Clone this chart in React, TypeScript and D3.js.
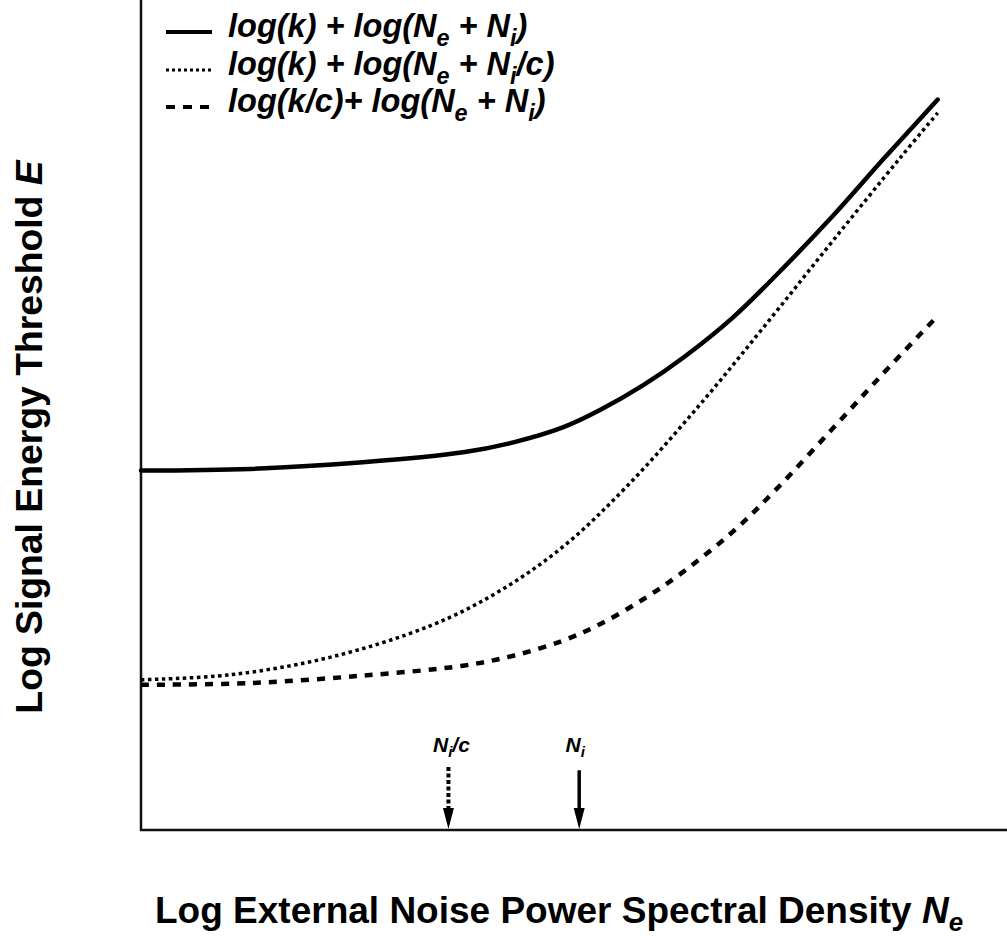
import React from "react";
import * as d3 from "d3";

// Log external noise (x, arbitrary log units) and log threshold (y, arbitrary log units)
const solidX = [0, 1.26, 2.56, 3.72, 4.3, 4.87, 5.3, 5.8, 6.26, 6.84, 7.34, 7.99, 8.57, 9.2];
const solidY = [4.33, 4.35, 4.43, 4.55, 4.67, 4.85, 5.06, 5.36, 5.69, 6.18, 6.69, 7.4, 8.08, 8.8];

const dottedX = [0, 1.03, 2.18, 3.34, 4.11, 4.87, 5.61, 6.45, 7.23, 7.99, 8.76, 9.2];
const dottedY = [1.81, 1.87, 2.08, 2.46, 2.86, 3.41, 4.14, 5.12, 6.11, 7.1, 8.09, 8.64];

const dashedX = [0, 1.26, 2.56, 3.72, 4.3, 4.87, 5.3, 5.8, 6.26, 6.84, 7.34, 7.99, 8.57, 9.15];
const dashedY = [1.75, 1.77, 1.86, 1.98, 2.1, 2.28, 2.48, 2.78, 3.11, 3.6, 4.11, 4.84, 5.5, 6.14];

const markerNames = ["Ni/c", "Ni"];
const markerX = [3.55, 5.06];
const markerTop = [0.76, 0.72];

const W = 1007;
const H = 936;
const FONT = "'Liberation Sans', Arial, Helvetica, sans-serif";

export default function App() {
  const x = d3.scaleLinear().domain([0, 10]).range([141, 1007]);
  const y = d3.scaleLinear().domain([0, 10]).range([830, 0]);
  const line = d3
    .line<[number, number]>()
    .x((d) => x(d[0]))
    .y((d) => y(d[1]))
    .curve(d3.curveCatmullRom.alpha(0.5));

  const series = [
    { xs: solidX, ys: solidY, width: 4.5, dash: undefined as string | undefined, cap: "round" },
    { xs: dottedX, ys: dottedY, width: 3.5, dash: "3.5 3.5", cap: "butt" },
    { xs: dashedX, ys: dashedY, width: 4.5, dash: "8 8", cap: "butt" },
  ];

  const legendY = [32, 70, 107];
  const legendStyles = [
    { width: 4, dash: undefined as string | undefined },
    { width: 3, dash: "3 3" },
    { width: 4, dash: "9 8" },
  ];
  const legendFs = 32.5;
  const legendRows = [
    ["log(k) + log(N", "e", " + N", "i", ")"],
    ["log(k) + log(N", "e", " + N", "i", "/c)"],
    ["log(k/c)+ log(N", "e", " + N", "i", ")"],
  ];
  const subShift = legendFs * 0.28;

  return (
    <svg
      width={W}
      height={H}
      style={{ position: "absolute", left: 0, top: 0, background: "#fff" }}
      fontFamily={FONT}
    >
      {/* axes */}
      <line x1={x(0)} y1={y(10)} x2={x(0)} y2={y(0) + 1} stroke="#111" strokeWidth={2.5} />
      <line x1={x(0) - 1} y1={y(0)} x2={x(10)} y2={y(0)} stroke="#111" strokeWidth={2.5} />

      {/* curves */}
      {series.map((s, i) => (
        <path
          key={i}
          d={line(s.xs.map((v, j) => [v, s.ys[j]] as [number, number])) || ""}
          fill="none"
          stroke="#000"
          strokeWidth={s.width}
          strokeDasharray={s.dash}
          strokeLinecap={s.cap as any}
        />
      ))}

      {/* markers */}
      {markerNames.map((name, i) => {
        const mx = x(markerX[i]);
        const top = y(markerTop[i]);
        const base = y(0) - 1;
        const headH = 21;
        const headW = 11;
        return (
          <g key={name}>
            <line
              x1={mx}
              y1={top}
              x2={mx}
              y2={base - headH + 2}
              stroke="#000"
              strokeWidth={i === 0 ? 4 : 3.5}
              strokeDasharray={i === 0 ? "4 2.5" : undefined}
            />
            <path
              d={`M${mx - headW / 2},${base - headH} L${mx + headW / 2},${base - headH} L${mx},${base} Z`}
              fill="#000"
            />
            <text
              x={mx + (i === 0 ? 3 : -4)}
              y={752}
              textAnchor="middle"
              fontSize={21}
              fontWeight="bold"
              fontStyle="italic"
            >
              N
              <tspan dy={5} fontSize={15}>
                i
              </tspan>
              {i === 0 ? <tspan dy={-5}>/c</tspan> : null}
            </text>
          </g>
        );
      })}

      {/* legend */}
      {legendRows.map((parts, i) => (
        <g key={i}>
          <line
            x1={166}
            x2={212}
            y1={legendY[i]}
            y2={legendY[i]}
            stroke="#000"
            strokeWidth={legendStyles[i].width}
            strokeDasharray={legendStyles[i].dash}
          />
          <text
            x={228}
            y={legendY[i] + 5}
            fontSize={legendFs}
            fontWeight="bold"
            fontStyle="italic"
          >
            {parts[0]}
            <tspan dy={subShift} fontSize={legendFs * 0.72}>
              {parts[1]}
            </tspan>
            <tspan dy={-subShift}>{parts[2]}</tspan>
            <tspan dy={subShift} fontSize={legendFs * 0.72}>
              {parts[3]}
            </tspan>
            <tspan dy={-subShift}>{parts[4]}</tspan>
          </text>
        </g>
      ))}

      {/* axis titles */}
      <text x={155} y={923} fontSize={37} fontWeight="bold">
        Log External Noise Power Spectral Density{" "}
        <tspan fontStyle="italic">N</tspan>
        <tspan fontStyle="italic" fontSize={26} dy={8}>
          e
        </tspan>
      </text>
      <text
        transform="translate(42,437) rotate(-90)"
        textAnchor="middle"
        fontSize={37.3}
        fontWeight="bold"
      >
        Log Signal Energy Threshold <tspan fontStyle="italic">E</tspan>
      </text>
    </svg>
  );
}
